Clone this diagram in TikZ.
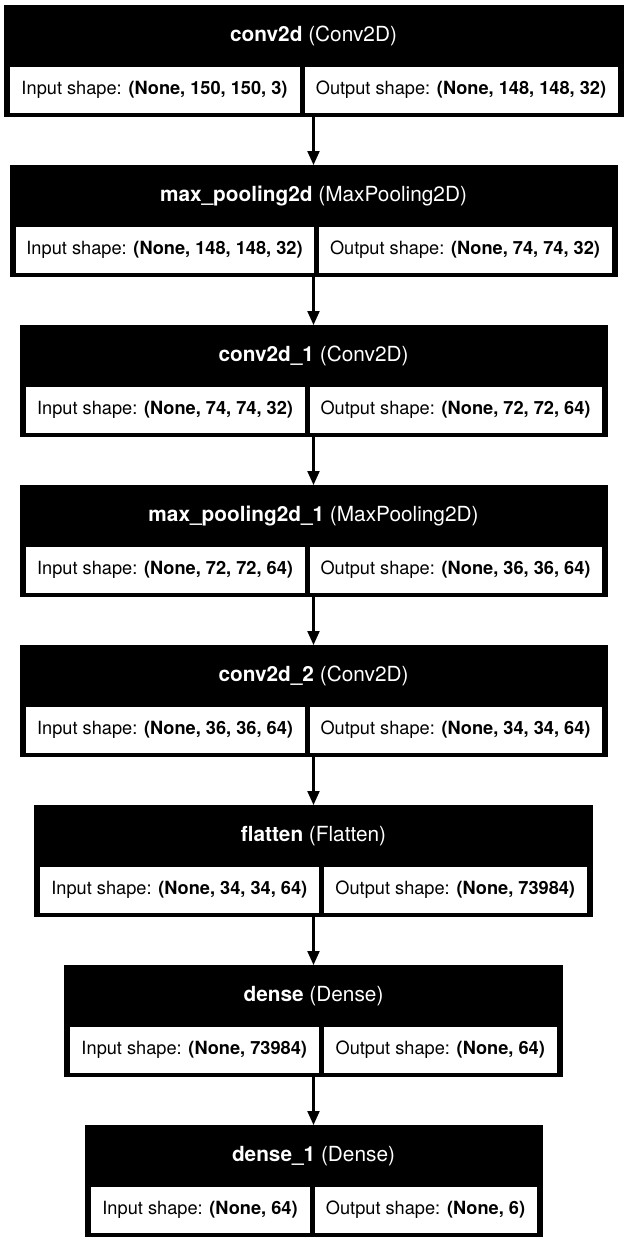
\documentclass[tikz,border=0pt]{standalone}
\usepackage{fontspec}
\setmainfont{TeX Gyre Heros}
\usetikzlibrary{arrows.meta}
\tikzset{
  outerbox/.style={rectangle, fill=black, draw=black, line width=0.8pt, minimum height=111pt, inner sep=0pt, anchor=north},
  titletext/.style={text=white, inner sep=0pt, font=\fontsize{20.8}{24}\selectfont},
  cellbox/.style={rectangle, fill=white, draw=black, line width=0.6pt, minimum height=47pt, inner sep=0pt, font=\fontsize{18.2}{22}\selectfont},
  arr/.style={line width=2.1pt, -{Triangle[width=12pt,length=14pt]}},
}
\newcommand{\kbox}[9]{%
  \pgfmathsetmacro\kcx{(#3+#4)/2}%
  \pgfmathsetmacro\kw{#4-#3}%
  \pgfmathsetmacro\klx{(#3+5+#5-2)/2}%
  \pgfmathsetmacro\klw{#5-2-#3-5}%
  \pgfmathsetmacro\krx{(#5+2+#4-5)/2}%
  \pgfmathsetmacro\krw{#4-5-#5-2}%
  \node[outerbox, minimum width=\kw pt] (#1) at (\kcx,#2) {};
  \node[titletext] (#1t) at (\kcx,#2+31) {\textbf{#6} #7};
  \node[cellbox, minimum width=\klw pt] (#1i) at (\klx,#2+84.5) {Input shape: \textbf{#8}};
  \node[cellbox, minimum width=\krw pt] (#1o) at (\krx,#2+84.5) {Output shape: \textbf{#9}};
}
\begin{document}
\begin{tikzpicture}[x=1pt,y=-1pt]
\useasboundingbox[fill=white] (0,0) rectangle (628,1243);
\kbox{b1}{5}{4}{623}{302}{conv2d}{(Conv2D)}{(None, 150, 150, 3)}{(None, 148, 148, 32)}
\kbox{b2}{165}{10}{617}{316}{max\_pooling2d}{(MaxPooling2D)}{(None, 148, 148, 32)}{(None, 74, 74, 32)}
\kbox{b3}{325}{20}{607}{307}{conv2d\_1}{(Conv2D)}{(None, 74, 74, 32)}{(None, 72, 72, 64)}
\kbox{b4}{485}{20}{607}{307}{max\_pooling2d\_1}{(MaxPooling2D)}{(None, 72, 72, 64)}{(None, 36, 36, 64)}
\kbox{b5}{645}{20}{607}{307}{conv2d\_2}{(Conv2D)}{(None, 36, 36, 64)}{(None, 34, 34, 64)}
\kbox{b6}{805}{34.5}{592.5}{321}{flatten}{(Flatten)}{(None, 34, 34, 64)}{(None, 73984)}
\kbox{b7}{965}{64.5}{562.5}{321}{dense}{(Dense)}{(None, 73984)}{(None, 64)}
\kbox{b8}{1125}{85}{542}{312}{dense\_1}{(Dense)}{(None, 64)}{(None, 6)}
\draw[arr] (b1.south) -- (b2.north);
\draw[arr] (b2.south) -- (b3.north);
\draw[arr] (b3.south) -- (b4.north);
\draw[arr] (b4.south) -- (b5.north);
\draw[arr] (b5.south) -- (b6.north);
\draw[arr] (b6.south) -- (b7.north);
\draw[arr] (b7.south) -- (b8.north);
\end{tikzpicture}
\end{document}
